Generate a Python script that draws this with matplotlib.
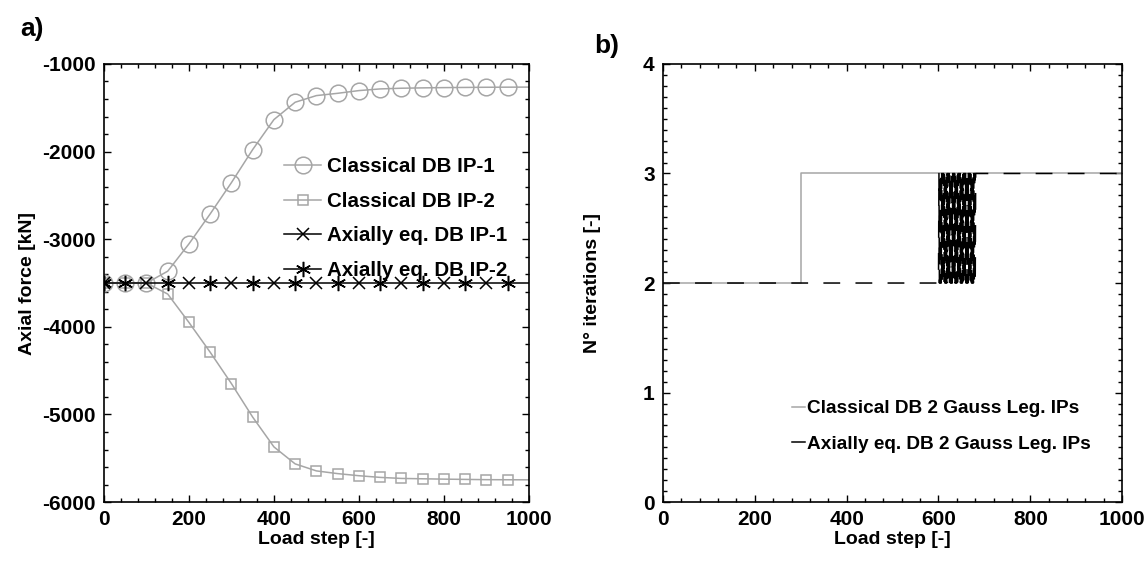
import numpy as np
import matplotlib.pyplot as plt
from matplotlib.ticker import MultipleLocator

plt.rcParams['font.family'] = ['Liberation Sans', 'DejaVu Sans']
plt.rcParams['font.weight'] = 'bold'
plt.rcParams['axes.labelweight'] = 'bold'
plt.rcParams['axes.unicode_minus'] = False

# ---- panel a: axial force at the two integration points ----
marker_steps = [0, 50, 100, 150, 200, 250, 300, 350, 400, 450, 500,
                550, 600, 650, 700, 750, 800, 850, 900, 950]
line_steps = marker_steps + [1000]
classical_ip1 = [-3500, -3500, -3500, -3365, -3053, -2711, -2354, -1977, -1635, -1437,
                 -1361, -1335, -1304, -1285, -1277, -1273, -1270, -1268, -1266, -1265, -1264]
classical_ip2 = [-3500, -3500, -3500, -3626, -3950, -4290, -4648, -5030, -5370, -5564,
                 -5644, -5675, -5699, -5718, -5730, -5734, -5738, -5741, -5744, -5745, -5746]
axial_ip1_steps = [0, 100, 200, 300, 400, 500, 600, 700, 800, 900]
axial_ip2_steps = [0, 50, 150, 250, 350, 450, 550, 650, 750, 850, 950]
axial_force = -3500

# ---- panel b: iterations per load step ----
classical_it_steps = [0, 300, 300, 1000]
classical_it = [2, 2, 3, 3]
axial_it_steps = [0] + list(range(600, 682)) + [1000]
axial_it = [2] + [2, 3] * 41 + [3]

gray = '#a6a6a6'
fig = plt.figure(figsize=(11.48, 5.61), dpi=100)
ax1 = fig.add_axes([0.0906, 0.105, 0.370, 0.781])
ax2 = fig.add_axes([0.5775, 0.105, 0.400, 0.781])

n = len(line_steps)
ax1.plot(line_steps, classical_ip1, color=gray, lw=1.1, marker='o', ms=12,
         mfc='none', mec=gray, mew=1.1, markevery=list(range(n - 1)),
         label='Classical DB IP-1')
ax1.plot(line_steps, classical_ip2, color=gray, lw=1.1, marker='s', ms=7,
         mfc='none', mec=gray, mew=1.1, markevery=list(range(n - 1)),
         label='Classical DB IP-2')
ax1.plot([0, 1000], [axial_force] * 2, color='black', lw=1.1)
ax1.plot(axial_ip1_steps, [axial_force] * len(axial_ip1_steps), ls='none',
         marker='x', ms=9, mec='black', mew=1.1)
ax1.plot(axial_ip2_steps, [axial_force] * len(axial_ip2_steps), ls='none',
         marker=(6, 2, 0), ms=11, mec='black', mew=1.1)
# legend proxies for the axially equilibrated series
ax1.plot([], [], color='black', lw=1.1, marker='x', ms=9, mew=1.1,
         label='Axially eq. DB IP-1')
ax1.plot([], [], color='black', lw=1.1, marker=(6, 2, 0), ms=11, mew=1.1,
         label='Axially eq. DB IP-2')

ax1.set_xlim(0, 1000)
ax1.set_ylim(-6000, -1000)
ax1.xaxis.set_major_locator(MultipleLocator(200))
ax1.xaxis.set_minor_locator(MultipleLocator(40))
ax1.yaxis.set_major_locator(MultipleLocator(1000))
ax1.yaxis.set_minor_locator(MultipleLocator(200))
ax1.set_xlabel('Load step [-]', fontsize=14, labelpad=1)
ax1.set_ylabel('Axial force [kN]', fontsize=14, labelpad=4)
ax1.legend(loc='upper left', bbox_to_anchor=(0.4, 0.81), frameon=False,
           fontsize=14.8, handlelength=1.8, handletextpad=0.3, labelspacing=0.75,
           borderpad=0)

ax2.plot(classical_it_steps, classical_it, color=gray, lw=1.1,
         label='Classical DB 2 Gauss Leg. IPs')
ax2.plot(axial_it_steps, axial_it, color='black', lw=1.1, dashes=(11, 10),
         label='Axially eq. DB 2 Gauss Leg. IPs')
ax2.set_xlim(0, 1000)
ax2.set_ylim(0, 4)
ax2.xaxis.set_major_locator(MultipleLocator(200))
ax2.xaxis.set_minor_locator(MultipleLocator(40))
ax2.yaxis.set_major_locator(MultipleLocator(1))
ax2.yaxis.set_minor_locator(MultipleLocator(0.1))
ax2.set_xlabel('Load step [-]', fontsize=14, labelpad=1)
ax2.set_ylabel('N° iterations [-]', fontsize=14, labelpad=30)
h, l = ax2.get_legend_handles_labels()
h2 = [plt.Line2D([], [], color=gray, lw=1.1), plt.Line2D([], [], color='black', lw=1.1)]
ax2.legend(h2, l, loc='upper left', bbox_to_anchor=(0.26, 0.255), frameon=False,
           fontsize=13.7, handlelength=0.7, handletextpad=0.1, labelspacing=0.95,
           borderpad=0)

for ax in (ax1, ax2):
    for s in ax.spines.values():
        s.set_linewidth(1.2)
    ax.tick_params(which='both', direction='in', top=True, right=True,
                   labelsize=15, width=1.0)
    ax.tick_params(which='major', length=5, pad=6)
    ax.tick_params(which='minor', length=3)
    for t in ax.get_xticklabels() + ax.get_yticklabels():
        t.set_fontweight('bold')

fig.text(0.018, 0.935, 'a)', fontsize=19, fontweight='bold')
fig.text(0.518, 0.905, 'b)', fontsize=19, fontweight='bold')

fig.savefig('out.png', dpi=100)
